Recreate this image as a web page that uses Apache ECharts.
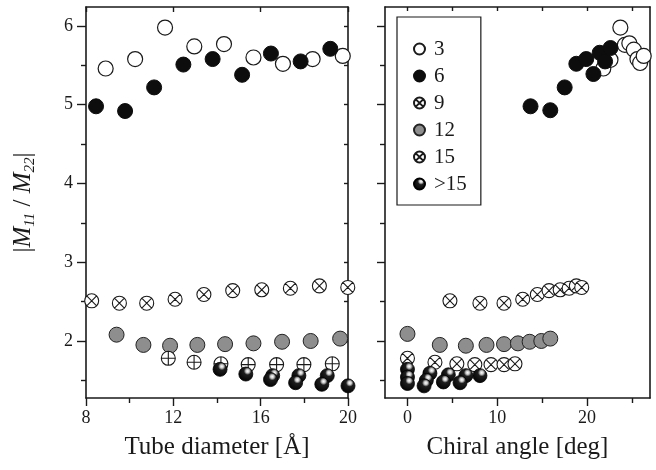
<!DOCTYPE html>
<html><head><meta charset="utf-8">
<script src="https://cdn.jsdelivr.net/npm/echarts@6/dist/echarts.min.js"></script>
<style>html,body{margin:0;padding:0;background:#fff}#c{width:656px;height:470px}</style>
</head><body><div id="c"></div>
<script>
// ---- data ----
const diamTicks = [8, 12, 16, 20];
const angleTicks = [0, 10, 20];
const angleMinor = [5, 15, 25];
const yTicks = [2, 3, 4, 5, 6];
const yMinor = [1.5, 2.5, 3.5, 4.5, 5.5];
const groups = ['3', '6', '9', '12', '15', '>15'];

const diam3 = [[8.9,5.46],[10.25,5.58],[11.62,5.98],[12.96,5.74],[14.32,5.77],[15.67,5.60],[17.02,5.52],[18.38,5.58],[19.76,5.62]];
const diam6 = [[8.46,4.98],[9.79,4.92],[11.12,5.22],[12.46,5.51],[13.8,5.58],[15.15,5.38],[16.47,5.65],[17.83,5.55],[19.19,5.71]];
const diam9 = [[8.26,2.51],[9.53,2.48],[10.78,2.48],[12.08,2.53],[13.4,2.59],[14.72,2.64],[16.05,2.65],[17.36,2.67],[18.69,2.70],[19.99,2.68]];
const diam12 = [[9.4,2.08],[10.63,1.95],[11.85,1.94],[13.1,1.95],[14.37,1.96],[15.67,1.97],[16.98,1.99],[18.29,2.0],[19.64,2.03]];
const diam15 = [[11.77,1.78],[12.95,1.73],[14.18,1.71],[15.43,1.70],[16.73,1.70],[17.98,1.70],[19.28,1.71]];
const diamGt15 = [[14.14,1.64],[15.32,1.58],[16.55,1.56],[16.45,1.51],[17.75,1.56],[17.6,1.47],[19.05,1.56],[18.8,1.45],[20.0,1.43]];

const angle3 = [[21.8,5.46],[22.6,5.57],[23.7,5.98],[24.2,5.76],[24.7,5.78],[25.2,5.70],[25.6,5.58],[25.9,5.53],[26.3,5.62]];
const angle6 = [[13.7,4.98],[15.9,4.93],[17.5,5.22],[18.8,5.52],[19.9,5.58],[20.7,5.39],[21.4,5.66],[22.0,5.55],[22.6,5.72]];
const angle9 = [[4.73,2.51],[8.07,2.48],[10.75,2.48],[12.83,2.53],[14.46,2.59],[15.76,2.64],[17.0,2.65],[18.0,2.67],[18.8,2.70],[19.4,2.68]];
const angle12 = [[0,2.09],[3.6,1.95],[6.5,1.94],[8.8,1.95],[10.75,1.96],[12.3,1.97],[13.6,1.99],[14.9,2.0],[15.9,2.03]];
const angle15 = [[0,1.78],[3.06,1.73],[5.5,1.71],[7.5,1.70],[9.3,1.70],[10.75,1.70],[11.97,1.71]];
const angleGt15 = [[0,1.64],[0,1.54],[0,1.46],[2.5,1.59],[2.1,1.50],[1.85,1.43],[4.55,1.57],[4.0,1.48],[6.5,1.56],[5.85,1.47],[8.07,1.56]];

// ---- styles ----
const FONT = '"Liberation Serif", "DejaVu Serif", serif';
const INK = '#1a1a1a';
const YMIN = 1.276, YMAX = 6.241;
const CROSS = 'path://M0,-1 A1,1 0 1,1 0,1 A1,1 0 1,1 0,-1 Z M-0.707,-0.707 L0.707,0.707 M-0.707,0.707 L0.707,-0.707';
const PLUS = 'path://M0,-1 A1,1 0 1,1 0,1 A1,1 0 1,1 0,-1 Z M0,-1 L0,1 M-1,0 L1,0';
const sphere = {type:'radial', x:0.62, y:0.3, r:0.75, colorStops:[
  {offset:0, color:'#ffffff'},{offset:0.16, color:'#c8c8c8'},{offset:0.34, color:'#1e1e1e'},{offset:1, color:'#000000'}]};

const styleOf = {
  '3':  {symbol:'circle', size:15, itemStyle:{color:'#fff', borderColor:INK, borderWidth:1.2, opacity:1}},
  '6':  {symbol:'circle', size:15, itemStyle:{color:'#0d0d0d', borderColor:'#0d0d0d', borderWidth:1, opacity:1}},
  '9':  {symbol:CROSS, size:14, itemStyle:{color:'#fff', borderColor:INK, borderWidth:1.1, opacity:1}},
  '12': {symbol:'circle', size:15, itemStyle:{color:'#8e8e8e', borderColor:'#222', borderWidth:1, opacity:1}},
  '15': {symbol:CROSS, size:14, itemStyle:{color:'#fff', borderColor:INK, borderWidth:1.1, opacity:1}},
  '>15':{symbol:'circle', size:14, itemStyle:{color:sphere, borderColor:'#000', borderWidth:0.8, opacity:1}}
};

function mk(name, data, xi, yi, symOverride) {
  const s = styleOf[name];
  return {type:'scatter', name:name, data:data, xAxisIndex:xi, yAxisIndex:yi,
    symbol: symOverride || s.symbol, symbolSize:s.size, itemStyle:s.itemStyle,
    clip:true, silent:true, animation:false, emphasis:{disabled:true}};
}

const lbl = {fontFamily:FONT, fontSize:18, color:INK};
const line = {show:true, onZero:false, lineStyle:{color:INK, width:1.6}};

function yAx(grid, opts) {
  return Object.assign({type:'value', gridIndex:grid, min:YMIN, max:YMAX,
    splitLine:{show:false}, axisLine:{show:false, onZero:false}, axisLabel:{show:false}, axisTick:{show:false}}, opts);
}
function xAx(grid, min, max, opts) {
  return Object.assign({type:'value', gridIndex:grid, min:min, max:max,
    splitLine:{show:false}, axisLine:{show:false, onZero:false}, axisLabel:{show:false}, axisTick:{show:false}}, opts);
}

const tickMaj = (vals, inside, len) => ({show:true, customValues:vals, inside:inside, length:len, lineStyle:{color:INK, width:1.4}});

const option = {
  backgroundColor:'#fff',
  animation:false,
  grid:[
    {left:86, top:7, width:262, height:391},
    {left:385, top:7, width:265, height:391}
  ],
  xAxis:[
    xAx(0, 8, 20, {position:'bottom', interval:4, axisLine:line,
      axisLabel:Object.assign({show:true, margin:11}, lbl),
      axisTick:{show:true, length:8, lineStyle:{color:INK, width:1.4}},
      minorTick:{show:true, splitNumber:2, length:5, lineStyle:{color:INK, width:1.4}},
      name:'Tube diameter [Å]', nameLocation:'middle', nameGap:37,
      nameTextStyle:{fontFamily:FONT, fontSize:25, color:INK}}),
    xAx(0, 8, 20, {position:'top', interval:4, axisLine:line,
      axisTick:{show:true, inside:true, length:5, lineStyle:{color:INK, width:1.4}}}),
    xAx(1, -2.5, 27, {position:'bottom', axisLine:line,
      axisLabel:Object.assign({show:true, margin:11, customValues:angleTicks}, lbl),
      axisTick:tickMaj(angleTicks, false, 8),
      name:'Chiral angle [deg]', nameLocation:'middle', nameGap:37,
      nameTextStyle:{fontFamily:FONT, fontSize:25, color:INK}}),
    xAx(1, -2.5, 27, {position:'bottom', axisTick:tickMaj(angleMinor, false, 5)}),
    xAx(1, -2.5, 27, {position:'top', axisLine:line, axisTick:tickMaj(angleTicks.concat(angleMinor), true, 4)})
  ],
  yAxis:[
    yAx(0, {position:'left', axisLine:line,
      axisLabel:Object.assign({show:true, margin:13, customValues:yTicks}, lbl),
      axisTick:tickMaj(yTicks, false, 9),
      name:'{n||}{i|M}{s|11}{n| / }{i|M}{s|22}{n||}', nameLocation:'middle', nameGap:48, nameRotate:90,
      nameTextStyle:{fontFamily:FONT, fontSize:25, color:INK, rich:{
        n:{fontFamily:FONT, fontSize:25, color:INK, lineHeight:30},
        i:{fontFamily:FONT, fontSize:25, fontStyle:'italic', color:INK, lineHeight:30},
        s:{fontFamily:FONT, fontSize:15, fontStyle:'italic', color:INK, verticalAlign:'bottom', lineHeight:30, padding:[12,0,0,0]}
      }}}),
    yAx(0, {position:'left', axisTick:tickMaj(yMinor, false, 5)}),
    yAx(0, {position:'right', axisLine:line, axisTick:tickMaj(yTicks.concat(yMinor), true, 4)}),
    yAx(1, {position:'left', axisLine:line, axisTick:tickMaj(yTicks, false, 8)}),
    yAx(1, {position:'left', axisTick:tickMaj(yMinor, false, 5)}),
    yAx(1, {position:'right', axisLine:line})
  ],
  legend:{
    data:groups, orient:'vertical', left:397, top:17,
    width:81, padding:[21,14,10,16], itemGap:5, itemWidth:11, itemHeight:11,
    borderColor:INK, borderWidth:1.2, borderRadius:0, backgroundColor:'#fff',
    textStyle:{fontFamily:FONT, fontSize:21, lineHeight:22, color:INK, padding:[0,0,0,4]},
    selectedMode:false, z:10
  },
  series:[
    mk('3', angle3, 2, 3), mk('6', angle6, 2, 3), mk('9', angle9, 2, 3),
    mk('12', angle12, 2, 3), mk('15', angle15, 2, 3), mk('>15', angleGt15, 2, 3),
    mk('3', diam3, 0, 0), mk('6', diam6, 0, 0), mk('9', diam9, 0, 0),
    mk('12', diam12, 0, 0), mk('15', diam15, 0, 0, PLUS), mk('>15', diamGt15, 0, 0)
  ]
};
const chart = echarts.init(document.getElementById('c'), null, {renderer:'canvas'});
chart.setOption(option);
</script></body></html>
